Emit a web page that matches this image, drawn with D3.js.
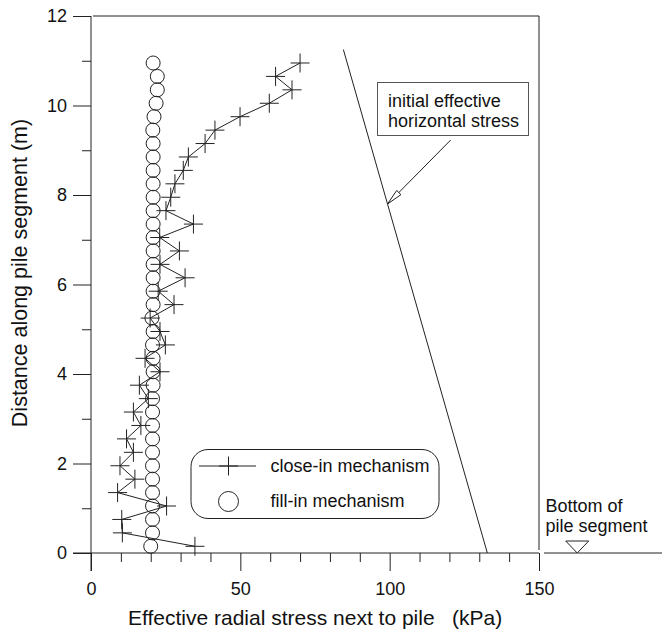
<!DOCTYPE html>
<html>
<head>
<meta charset="utf-8">
<script src="https://cdn.jsdelivr.net/npm/d3@7"></script>
<style>
  body { margin: 0; background: #fff; }
  text { font-family: Arial, "Liberation Sans", sans-serif; fill: #111; }
</style>
</head>
<body>
<div id="chart"></div>
<script>
// depth along pile segment (m), shared by both series
var depth = [0.15, 0.45, 0.75, 1.05, 1.35, 1.65, 1.95, 2.25, 2.55, 2.85, 3.15, 3.45,
             3.75, 4.05, 4.35, 4.65, 4.95, 5.25, 5.55, 5.85, 6.15, 6.45, 6.75, 7.05,
             7.35, 7.65, 7.95, 8.25, 8.55, 8.85, 9.15, 9.45, 9.75, 10.05, 10.35, 10.65, 10.95];
// close-in mechanism (kPa)
var closeIn = [34.8, 10.5, 10.3, 25.3, 8.9, 14.7, 9.7, 14.2, 11.9, 16.7, 14.2, 19.2,
               16.2, 23.1, 18.1, 24.9, 23.1, 19.8, 27.8, 22.5, 31.5, 23.1, 29.6, 23.0,
               34.3, 25.1, 26.7, 28.1, 30.9, 32.6, 38.2, 41.5, 49.9, 59.7, 67.3, 61.8, 70.0];
// fill-in mechanism (kPa)
var fillIn = [20.0, 20.6, 20.6, 20.6, 20.6, 20.6, 20.6, 20.6, 20.6, 20.6, 20.6, 20.6,
              20.8, 20.8, 20.8, 20.6, 20.8, 20.4, 20.8, 20.8, 20.8, 20.8, 20.8, 20.8,
              20.8, 20.8, 20.8, 20.8, 20.8, 20.8, 20.8, 20.7, 21.1, 21.8, 22.2, 22.2, 20.8];
// initial effective horizontal stress line
var initX = [84.5, 132.7];
var initY = [11.25, 0];

var xMajor = [0, 50, 100, 150];
var xMinor = [10, 20, 30, 40, 60, 70, 80, 90, 110, 120, 130, 140];
var yMajor = [0, 2, 4, 6, 8, 10, 12];
var yMinor = [1, 3, 5, 7, 9, 11];

var W = 662, H = 632;
var ink = "#222";

var svg = d3.select("#chart").append("svg")
    .attr("width", W).attr("height", H);

var x = d3.scaleLinear().domain([0, 150]).range([91, 539]);
var y = d3.scaleLinear().domain([0, 12]).range([553, 16]);

// y axis
var yAxisMajor = d3.axisLeft(y).tickValues(yMajor).tickSize(18).tickPadding(6);
var yAxisMinor = d3.axisLeft(y).tickValues(yMinor).tickSize(9).tickFormat("");
var gy = svg.append("g").attr("transform", "translate(" + x(0) + ",0)");
gy.call(yAxisMajor);
gy.append("g").call(yAxisMinor);

// x axis
var xAxisMajor = d3.axisBottom(x).tickValues(xMajor).tickSize(18).tickPadding(11);
var xAxisMinor = d3.axisBottom(x).tickValues(xMinor).tickSize(9).tickFormat("");
var gx = svg.append("g").attr("transform", "translate(0," + y(0) + ")");
gx.call(xAxisMajor);
gx.append("g").call(xAxisMinor);

svg.selectAll(".domain").remove();
svg.selectAll(".tick line").attr("stroke", ink);
svg.selectAll(".tick text").style("font-size", "18px").attr("fill", "#111");

// axis lines and frame
svg.append("line")
    .attr("x1", x(0)).attr("x2", x(0))
    .attr("y1", y(12)).attr("y2", y(0) + 18)
    .attr("stroke", ink);
svg.append("line")
    .attr("x1", x(0) - 18).attr("x2", x(150))
    .attr("y1", y(0)).attr("y2", y(0))
    .attr("stroke", ink);
svg.append("line")
    .attr("x1", x(150) + 5).attr("x2", W)
    .attr("y1", y(0)).attr("y2", y(0))
    .attr("stroke", ink);
svg.append("line")
    .attr("x1", x(0) + 2).attr("x2", x(150))
    .attr("y1", y(12)).attr("y2", y(12))
    .attr("stroke", ink);
svg.append("line")
    .attr("x1", x(150)).attr("x2", x(150))
    .attr("y1", y(12)).attr("y2", y(0) - 3)
    .attr("stroke", ink);

// axis titles
svg.append("text")
    .attr("x", 128).attr("y", 625)
    .style("font-size", "21px")
    .style("white-space", "pre")
    .text("Effective radial stress next to pile   (kPa)");

svg.append("text")
    .attr("transform", "translate(27,273) rotate(-90)")
    .attr("text-anchor", "middle")
    .style("font-size", "21.5px")
    .text("Distance along pile segment (m)");

// initial effective horizontal stress
svg.append("line")
    .attr("x1", x(initX[0])).attr("y1", y(initY[0]))
    .attr("x2", x(initX[1])).attr("y2", y(initY[1]))
    .attr("stroke", ink);

// fill-in circles
svg.append("g").selectAll("circle")
    .data(depth)
    .join("circle")
    .attr("cx", function(d, i) { return x(fillIn[i]); })
    .attr("cy", function(d) { return y(d); })
    .attr("r", 7)
    .attr("fill", "none")
    .attr("stroke", ink);

// close-in line + markers
var line = d3.line()
    .x(function(d, i) { return x(closeIn[i]); })
    .y(function(d) { return y(d); });
svg.append("path")
    .datum(depth)
    .attr("d", line)
    .attr("fill", "none")
    .attr("stroke", ink);

var plus = "M-9.5,0H9.5M0,-9.5V9.5";
svg.append("g").selectAll("path")
    .data(depth)
    .join("path")
    .attr("transform", function(d, i) { return "translate(" + x(closeIn[i]) + "," + y(d) + ")"; })
    .attr("d", plus)
    .attr("stroke", ink)
    .attr("fill", "none");

// annotation box + arrow
svg.append("rect")
    .attr("x", 377.5).attr("y", 82.5).attr("width", 151).attr("height", 53)
    .attr("fill", "#fff").attr("stroke", "#555");
svg.append("text").attr("x", 388).attr("y", 107).style("font-size", "18px").text("initial effective");
svg.append("text").attr("x", 388).attr("y", 127).style("font-size", "18px").text("horizontal stress");

var ax0 = 450.7, ay0 = 140, ax1 = x(99.3), ay1 = y(7.8);
svg.append("line")
    .attr("x1", ax0).attr("y1", ay0).attr("x2", ax1).attr("y2", ay1)
    .attr("stroke", ink);
var ang = Math.atan2(ay0 - ay1, ax0 - ax1);
var hl = 16, hw = 3;
var bx = ax1 + hl * Math.cos(ang), by = ay1 + hl * Math.sin(ang);
svg.append("path")
    .attr("d", "M" + ax1 + "," + ay1 +
      "L" + (bx - hw * Math.sin(ang)) + "," + (by + hw * Math.cos(ang)) +
      "L" + (bx + hw * Math.sin(ang)) + "," + (by - hw * Math.cos(ang)) + "Z")
    .attr("fill", "#fff").attr("stroke", ink);

// legend
var lg = svg.append("g");
lg.append("rect")
    .attr("x", 191).attr("y", 449.5).attr("width", 248).attr("height", 69)
    .attr("rx", 17).attr("ry", 17)
    .attr("fill", "#fff").attr("stroke", ink);
lg.append("line").attr("x1", 199).attr("x2", 256).attr("y1", 466).attr("y2", 466).attr("stroke", ink);
lg.append("path").attr("transform", "translate(228.5,466)").attr("d", plus).attr("stroke", ink);
lg.append("circle").attr("cx", 228.5).attr("cy", 501.5).attr("r", 10).attr("fill", "none").attr("stroke", ink);
lg.append("text").attr("x", 270.5).attr("y", 472).style("font-size", "18px").text("close-in mechanism");
lg.append("text").attr("x", 270.5).attr("y", 507).style("font-size", "18px").text("fill-in mechanism");

// bottom of pile segment marker
var tx = x(162.8);
svg.append("path")
    .attr("d", "M" + (tx - 11.5) + "," + (y(0) - 12) + "H" + (tx + 11.5) + "L" + tx + "," + y(0) + "Z")
    .attr("fill", "#fff").attr("stroke", ink);
svg.append("text").attr("x", 545.5).attr("y", 512).style("font-size", "18px").text("Bottom of");
svg.append("text").attr("x", 545.5).attr("y", 532).style("font-size", "18px").text("pile segment");
</script>
</body>
</html>
